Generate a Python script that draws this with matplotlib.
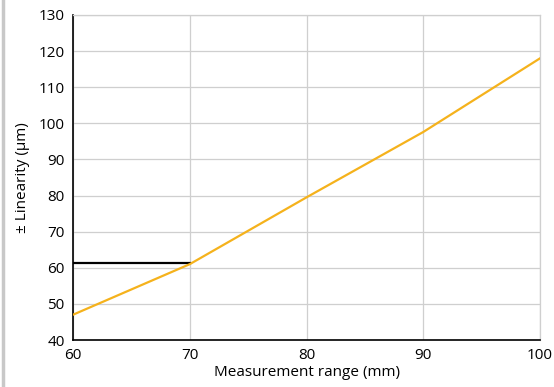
import matplotlib
matplotlib.use("Agg")
import matplotlib.pyplot as plt
from matplotlib.lines import Line2D

plt.rcParams['font.family'] = ['Open Sans', 'DejaVu Sans']

# measurement range (mm) vs linearity (um)
ranges = [60, 70, 80, 90, 100]
linearity = [47, 61, 79.5, 97.6, 118]
ref_x = [60, 70]
ref_y = [61.3, 61.3]

xticks = [60, 70, 80, 90, 100]
yticks = [40, 50, 60, 70, 80, 90, 100, 110, 120, 130]

fig = plt.figure(figsize=(5.54, 3.87), dpi=100)
ax = fig.add_axes([73 / 554, 1 - 340 / 387, (540 - 73) / 554, (340 - 15) / 387])

ax.plot(ref_x, ref_y, color='black', lw=1.6, zorder=3)
ax.plot(ranges, linearity, color='#f5b21c', lw=1.6, zorder=4)

ax.set_xlim(60, 100)
ax.set_ylim(40, 130)
ax.set_xticks(xticks)
ax.set_yticks(yticks)
ax.grid(True, color='#cfcfcf', lw=0.9)
ax.tick_params(length=0, labelsize=11, pad=6)

for s in ['top', 'right']:
    ax.spines[s].set_color('#cfcfcf')
    ax.spines[s].set_linewidth(0.9)
for s in ['left', 'bottom']:
    ax.spines[s].set_color('black')
    ax.spines[s].set_linewidth(1.2)

ax.set_xlabel('Measurement range (mm)', fontsize=11, labelpad=1)
ax.set_ylabel('± Linearity (µm)', fontsize=11, labelpad=6)

# thin grey strip on the left edge
fig.add_artist(Line2D([3 / 554, 3 / 554], [0, 1], color='#c8c8c8', lw=2.5))

fig.savefig('out.png', dpi=100)
